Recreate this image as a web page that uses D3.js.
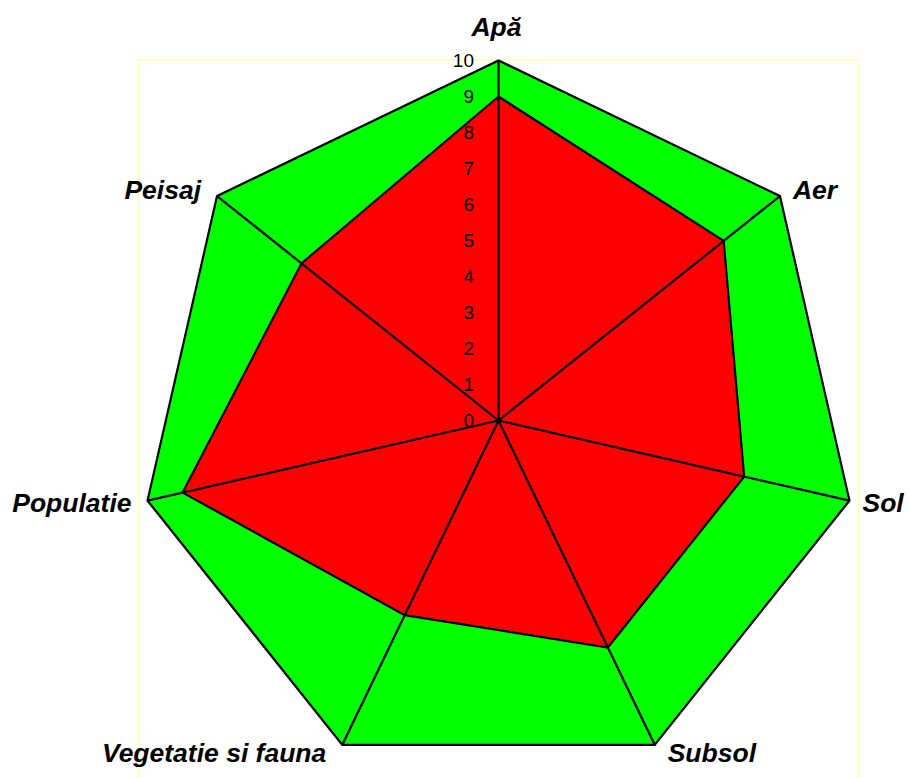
<!DOCTYPE html>
<html><head><meta charset="utf-8">
<script src="https://cdn.jsdelivr.net/npm/d3@7"></script>
<style>html,body{margin:0;padding:0;background:#fff;}svg{display:block;}</style>
</head><body>
<svg id="chart" width="909" height="778"></svg>
<script>
const categories = ["Apă", "Aer", "Sol", "Subsol", "Vegetatie si fauna", "Populatie", "Peisaj"];
const maxValues = [10, 10, 10, 10, 10, 10, 10];
const values = [9, 8, 7, 7, 6, 9, 7];
const tickValues = [0, 1, 2, 3, 4, 5, 6, 7, 8, 9, 10];

const svg = d3.select("#chart");
const cx = 498.5, cy = 420.5, R = 360;
const r = d3.scaleLinear().domain([0, 10]).range([0, R]);
const angle = (i) => i * 2 * Math.PI / categories.length;
const pt = (i, v) => [cx + r(v) * Math.sin(angle(i)), cy - r(v) * Math.cos(angle(i))];

// plot box
svg.append("rect").attr("x", 138.5).attr("y", 60).attr("width", 720).attr("height", 720)
  .attr("fill", "none").attr("stroke", "#ffffc4").attr("stroke-width", 2);

const line = d3.line();
svg.append("path").attr("d", line(maxValues.map((v, i) => pt(i, v))) + "Z")
  .attr("fill", "#00ff00").attr("stroke", "#000").attr("stroke-width", 2.2).attr("stroke-linejoin", "miter");
svg.append("path").attr("d", line(values.map((v, i) => pt(i, v))) + "Z")
  .attr("fill", "#ff0000").attr("stroke", "#000").attr("stroke-width", 2.2).attr("stroke-linejoin", "miter");

// spokes
categories.forEach((c, i) => {
  const p = pt(i, 10);
  svg.append("line").attr("x1", cx).attr("y1", cy).attr("x2", p[0]).attr("y2", p[1])
    .attr("stroke", "#000").attr("stroke-width", 2.2);
});

// tick labels
svg.selectAll("text.tick").data(tickValues).enter().append("text")
  .attr("class", "tick")
  .attr("x", cx - 24.5).attr("y", d => cy - r(d))
  .attr("text-anchor", "end").attr("dominant-baseline", "central")
  .attr("font-family", "Liberation Sans, Arial, sans-serif").attr("font-size", 19)
  .attr("fill", "#000").text(d => d);

// axis labels
categories.forEach((c, i) => {
  const p = pt(i, 10);
  const s = Math.sin(angle(i)), co = Math.cos(angle(i));
  let x = p[0], y = p[1], anchor = "middle";
  if (Math.abs(s) < 0.1) { y = p[1] - 34; x = p[0] - 2; }
  else { x = p[0] + (s > 0 ? 13 : -16); anchor = s > 0 ? "start" : "end"; y = p[1] - 9 * co; }
  svg.append("text").attr("x", x).attr("y", y)
    .attr("text-anchor", anchor).attr("dominant-baseline", "central")
    .attr("font-family", "Liberation Sans, Arial, sans-serif").attr("font-size", 26.5)
    .attr("font-weight", "bold").attr("font-style", "italic").attr("fill", "#000").text(c);
});
</script>
</body></html>
